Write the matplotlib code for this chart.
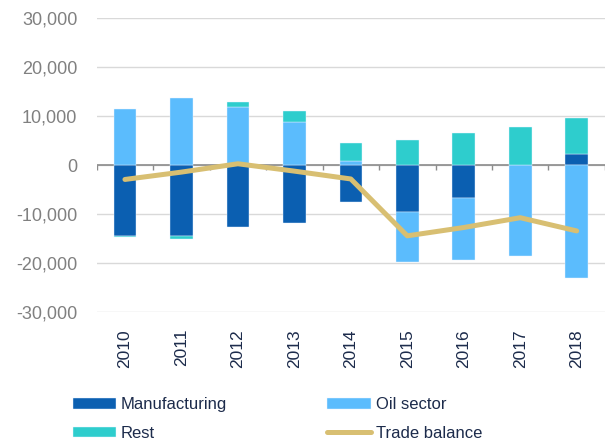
import numpy as np
import matplotlib
matplotlib.use("Agg")
import matplotlib.pyplot as plt
from matplotlib.ticker import FuncFormatter

# data
years = ["2010", "2011", "2012", "2013", "2014", "2015", "2016", "2017", "2018"]
manufacturing = [-14400, -14500, -12600, -11800, -7500, -9500, -6600, 0, 2200]
oil_sector = [11400, 13700, 11800, 8800, 900, -10200, -12800, -18500, -22900]
rest = [-200, -600, 1100, 2200, 3600, 5200, 6600, 7700, 7400]
trade_balance = [-2900, -1400, 300, -1200, -2800, -14400, -12700, -10700, -13400]

plt.rcParams['font.family'] = ['Liberation Sans', 'DejaVu Sans']

fig = plt.figure(figsize=(6.16, 4.43), dpi=100)
ax = fig.add_axes([0.157, 0.295, 0.825, 0.664])

x = np.arange(len(years))
pos_base = np.zeros(len(years))
neg_base = np.zeros(len(years))
series = [("Manufacturing", manufacturing, "#0b5fb1"),
          ("Oil sector", oil_sector, "#5bbcfd"),
          ("Rest", rest, "#2ecdcd")]
bars = []
for name, vals, col in series:
    vals = np.array(vals, dtype=float)
    base = np.where(vals >= 0, pos_base, neg_base)
    b = ax.bar(x, vals, 0.4, bottom=base, color=col, label=name,
               edgecolor="#e8f4ff", linewidth=0.3, zorder=2)
    bars.append(b)
    pos_base = pos_base + np.where(vals >= 0, vals, 0)
    neg_base = neg_base + np.where(vals < 0, vals, 0)

line, = ax.plot(x, trade_balance, color="#d8bf72", lw=3.6,
                solid_capstyle="round", label="Trade balance", zorder=3)

ax.set_ylim(-30000, 30000)
ax.set_xlim(-0.5, len(years) - 0.5)
ax.set_yticks(np.arange(-30000, 30001, 10000))
ax.yaxis.set_major_formatter(FuncFormatter(lambda v, p: f"{int(v):,}"))
ax.grid(axis="y", color="#d9d9d9", lw=1.0, zorder=0)
ax.set_axisbelow(True)
for s in ["left", "right", "top", "bottom"]:
    ax.spines[s].set_visible(False)
ax.tick_params(axis="y", length=0, pad=14, labelsize=13, labelcolor="#808080")
ax.set_xticks(x)
ax.set_xticklabels(years, rotation=90)
ax.tick_params(axis="x", length=0, pad=12, labelsize=12.5, labelcolor="#1c2b4b")

# zero axis with small separators between categories (pointing down)
ax.axhline(0, color="#8c8c8c", lw=1.2, zorder=1)
ax.vlines(np.arange(len(years) + 1) - 0.5, -900, 0, color="#8c8c8c", lw=1.0, zorder=1)

handles = [bars[0], bars[2], bars[1], line]
labels = ["Manufacturing", "Rest", "Oil sector", "Trade balance"]
fig.legend(handles, labels, ncol=2, loc="upper left",
           bbox_to_anchor=(0.118, 0.103), frameon=False, fontsize=12,
           labelcolor="#1c2b4b", handlelength=2.6, handleheight=0.6,
           handletextpad=0.3, columnspacing=6.0, labelspacing=0.8,
           borderaxespad=0, borderpad=0)

fig.savefig("out.png", dpi=100)
